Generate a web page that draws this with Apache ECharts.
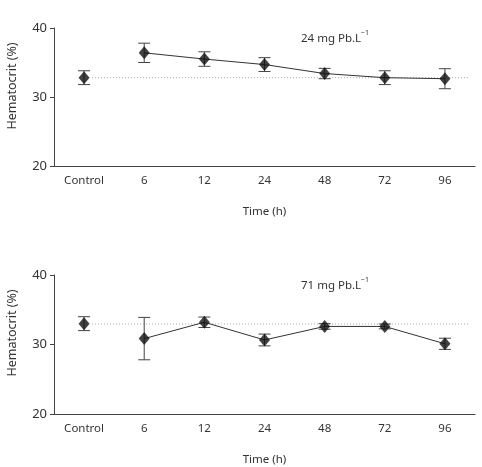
<!DOCTYPE html>
<html>
<head>
<meta charset="utf-8">
<script src="https://cdn.jsdelivr.net/npm/echarts@6/dist/echarts.min.js"></script>
<style>
html, body { margin: 0; padding: 0; background: #fff; }
#chart { width: 482px; height: 467px; }
</style>
</head>
<body>
<div id="chart"></div>
<script>
// time points
var times = ['Control', '6', '12', '24', '48', '72', '96'];
var yMin = 20, yMax = 40, yStep = 10;

// 24 mg Pb.L-1 : mean and error (+/-)
var mean24 = [32.8, 36.4, 35.5, 34.7, 33.4, 32.8, 32.65];
var err24 = [1.0, 1.4, 1.05, 1.0, 0.75, 1.0, 1.45];
var ctrl24 = 32.8;

// 71 mg Pb.L-1
var mean71 = [33.0, 30.85, 33.2, 30.65, 32.6, 32.6, 30.1];
var err71 = [1.0, 3.05, 0.75, 0.85, 0.4, 0.35, 0.8];
var ctrl71 = 32.95;

var font = 'Noto Sans';
var axisColor = '#444';
var textColor = '#333';

function errRender(params, api) {
    var i = api.value(0), v = api.value(1), e = api.value(2);
    var top = api.coord([i, v + e]);
    var bot = api.coord([i, v - e]);
    var w = 6;
    var st = { stroke: '#444', lineWidth: 1 };
    return {
        type: 'group',
        children: [
            { type: 'line', shape: { x1: top[0], y1: top[1], x2: bot[0], y2: bot[1] }, style: st },
            { type: 'line', shape: { x1: top[0] - w, y1: top[1], x2: top[0] + w, y2: top[1] }, style: st },
            { type: 'line', shape: { x1: bot[0] - w, y1: bot[1], x2: bot[0] + w, y2: bot[1] }, style: st }
        ]
    };
}

function ctrlRender(params, api) {
    var p = api.coord([api.value(0), api.value(1)]);
    var cs = params.coordSys;
    return {
        type: 'line',
        shape: { x1: p[0] + 8, y1: p[1], x2: cs.x + cs.width - 6, y2: p[1] },
        style: { stroke: '#aaa', lineWidth: 1, lineDash: [1, 2] }
    };
}

function xAxisOpt(gi) {
    return {
        gridIndex: gi,
        type: 'category',
        data: times,
        boundaryGap: true,
        axisLine: { lineStyle: { color: axisColor, width: 1 } },
        axisTick: { length: 4, alignWithLabel: false, lineStyle: { color: axisColor } },
        axisLabel: { color: textColor, fontFamily: font, fontSize: 11.5, margin: 9 },
        name: 'Time (h)',
        nameLocation: 'middle',
        nameGap: 40,
        nameTextStyle: { color: textColor, fontFamily: font, fontSize: 11.5 }
    };
}

function yAxisOpt(gi) {
    return {
        gridIndex: gi,
        type: 'value',
        min: yMin, max: yMax, interval: yStep,
        splitLine: { show: false },
        axisLine: { show: true, lineStyle: { color: axisColor, width: 1 } },
        axisTick: { show: true, length: 4, lineStyle: { color: axisColor } },
        axisLabel: { color: textColor, fontFamily: font, fontSize: 13, margin: 7 }
    };
}

function seriesFor(gi, mean, err, ctrl) {
    return [
        {
            type: 'custom', xAxisIndex: gi, yAxisIndex: gi, z: 1,
            renderItem: ctrlRender,
            data: [[0, ctrl]]
        },
        {
            type: 'custom', xAxisIndex: gi, yAxisIndex: gi, z: 2,
            renderItem: errRender,
            data: mean.map(function (v, i) { return [i, v, err[i]]; })
        },
        {
            type: 'line', xAxisIndex: gi, yAxisIndex: gi, z: 3,
            symbol: 'none',
            lineStyle: { color: '#333', width: 1 },
            data: mean.map(function (v, i) { return i === 0 ? '-' : v; })
        },
        {
            type: 'scatter', xAxisIndex: gi, yAxisIndex: gi, z: 4,
            symbol: 'diamond', symbolSize: [11, 13],
            itemStyle: { color: '#111' },
            data: mean.map(function (v, i) { return [i, v]; })
        }
    ];
}

function doseLabel(txt, top) {
    return {
        type: 'text', left: 301, top: top,
        style: {
            text: '{a|' + txt + '}{s|\u22121}',
            rich: {
                a: { fontFamily: font, fontSize: 11.5, fill: textColor, lineHeight: 16, verticalAlign: 'bottom' },
                s: { fontFamily: font, fontSize: 7, fill: textColor, lineHeight: 16, verticalAlign: 'top' }
            }
        }
    };
}

function yName(cy) {
    return {
        type: 'text', x: 12, y: cy, rotation: Math.PI / 2,
        style: {
            text: 'Hematocrit (%)', fontFamily: font, fontSize: 12.5, fill: textColor,
            align: 'center', verticalAlign: 'middle'
        }
    };
}

var chart = echarts.init(document.getElementById('chart'));
chart.setOption({
    animation: false,
    backgroundColor: '#fff',
    grid: [
        { left: 54, top: 28, width: 421, height: 138 },
        { left: 54, top: 275, width: 421, height: 140 }
    ],
    xAxis: [xAxisOpt(0), xAxisOpt(1)],
    yAxis: [yAxisOpt(0), yAxisOpt(1)],
    series: seriesFor(0, mean24, err24, ctrl24).concat(seriesFor(1, mean71, err71, ctrl71)),
    graphic: [
        doseLabel('24 mg Pb.L', 29),
        doseLabel('71 mg Pb.L', 276),
        yName(86),
        yName(333)
    ]
});
</script>
</body>
</html>
